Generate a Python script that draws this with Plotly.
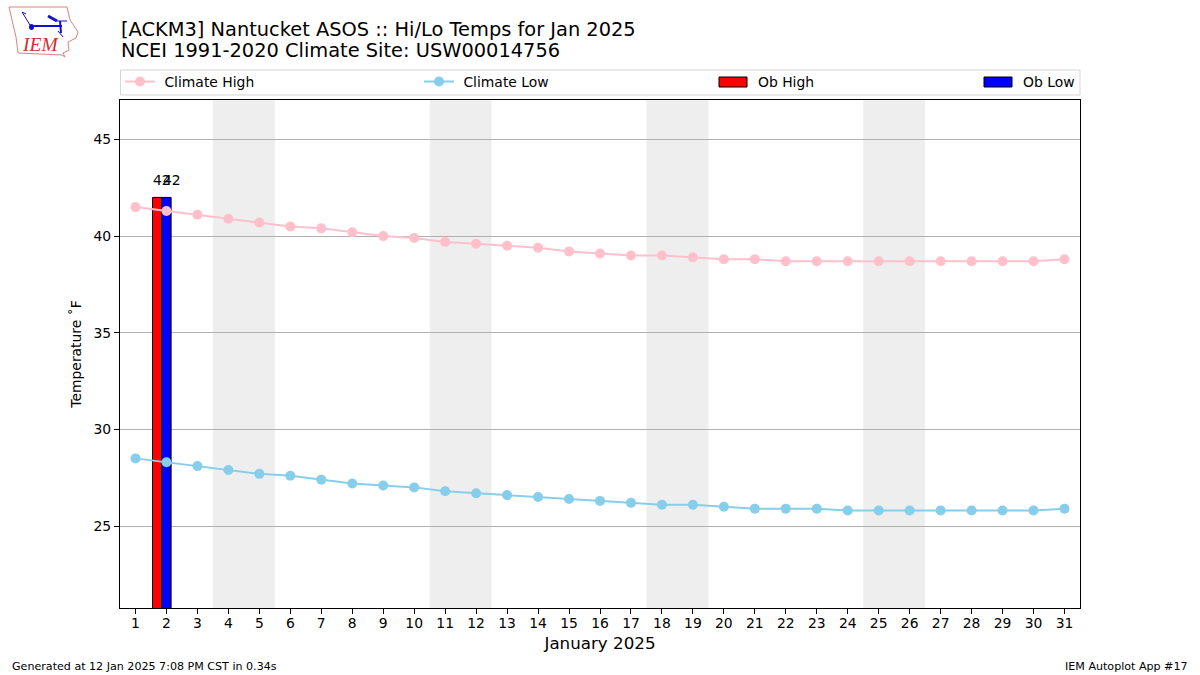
import plotly.graph_objects as go

days = list(range(1, 32))
climate_high = [41.5, 41.3, 41.1, 40.9, 40.7, 40.5, 40.4, 40.2, 40.0, 39.9, 39.7, 39.6, 39.5, 39.4, 39.2, 39.1,
                39.0, 39.0, 38.9, 38.8, 38.8, 38.7, 38.7, 38.7, 38.7, 38.7, 38.7, 38.7, 38.7, 38.7, 38.8]
climate_low = [28.5, 28.3, 28.1, 27.9, 27.7, 27.6, 27.4, 27.2, 27.1, 27.0, 26.8, 26.7, 26.6, 26.5, 26.4, 26.3,
               26.2, 26.1, 26.1, 26.0, 25.9, 25.9, 25.9, 25.8, 25.8, 25.8, 25.8, 25.8, 25.8, 25.8, 25.9]
ob_days = [2]
ob_high = [42]
ob_low = [42]
weekends = [(4, 5), (11, 12), (18, 19), (25, 26)]
y_ticks = [25, 30, 35, 40, 45]

W, H = 1200, 675
L, R, T, B = 120, 1080, 100, 608
FONT = "DejaVu Sans"


def px(x):
    return (x - L) / (R - L)


def py(y):
    return (B - y) / (B - T)


fig = go.Figure()
fig.add_bar(x=ob_days, y=ob_high, width=0.3, offset=-0.45, marker=dict(color="red", line=dict(color="black", width=1)),
            showlegend=False, name="Ob High")
fig.add_bar(x=ob_days, y=ob_low, width=0.3, offset=-0.15, marker=dict(color="blue", line=dict(color="black", width=1)),
            showlegend=False, name="Ob Low")
fig.add_scatter(x=days, y=climate_high, mode="lines+markers", name=" Climate High", legend="legend",
                line=dict(color="pink", width=2), marker=dict(color="pink", size=10))
fig.add_scatter(x=days, y=climate_low, mode="lines+markers", name=" Climate Low", legend="legend2",
                line=dict(color="skyblue", width=2), marker=dict(color="skyblue", size=10))

shapes = []
for a, b in weekends:
    shapes.append(dict(type="rect", xref="x", yref="paper", x0=a - 0.5, x1=b + 0.5, y0=0, y1=1,
                       fillcolor="#eeeeee", line_width=0, layer="below"))
# legend frame
x0, x1, y0, y1 = px(120.5), px(1080), py(70), py(95)
shapes.append(dict(type="rect", xref="paper", yref="paper", x0=x0, x1=x1, y0=y0, y1=y1,
                   fillcolor="white", line=dict(color="#d5d5d5", width=1), layer="above"))
# bar swatches
for sx, col in ((719, "red"), (984, "blue")):
    shapes.append(dict(type="rect", xref="paper", yref="paper", x0=px(sx), x1=px(sx + 28), y0=py(77), y1=py(87),
                       fillcolor=col, line=dict(color="black", width=1), layer="above"))
# logo: state outline
P = lambda pts: "M" + "L".join(f"{px(a):.5f},{py(b):.5f}" for a, b in pts) + "Z"
outline = [(9, 7), (67, 7), (70, 20), (78, 32), (76, 38), (68, 42), (69, 50), (63, 53), (65, 57), (62, 55),
           (18, 53), (16, 37), (12, 20)]
shapes.append(dict(type="path", xref="paper", yref="paper", path=P(outline), line=dict(color="#e08080", width=1),
                   fillcolor="white", layer="above"))
for a, b, c, d, w in [(30, 26, 62, 26, 2), (60, 21, 61, 33, 2), (48, 16, 57, 21, 3), (57, 21, 67, 21, 1),
                      (22, 12, 30, 25, 1), (22, 12, 26, 14, 1), (58, 31, 63, 37, 1)]:
    shapes.append(dict(type="line", xref="paper", yref="paper", x0=px(a), y0=py(b), x1=px(c), y1=py(d),
                       line=dict(color="#1010d0", width=w), layer="above"))
shapes.append(dict(type="circle", xref="paper", yref="paper", x0=px(29), x1=px(34), y0=py(24), y1=py(30),
                   fillcolor="#1010d0", line_width=0, layer="above"))

ann = []
for d, h, l in zip(ob_days, ob_high, ob_low):
    ann.append(dict(x=d - 0.45, y=h, xref="x", yref="y", text=str(h), showarrow=False, xanchor="left", yanchor="bottom",
                    yshift=7, xshift=-2, font=dict(size=13.9, color="black")))
    ann.append(dict(x=d - 0.15, y=l, xref="x", yref="y", text=str(l), showarrow=False, xanchor="left", yanchor="bottom",
                    yshift=7, xshift=-1, font=dict(size=13.9, color="black")))


def txt(x, y, s, size, anchor="left", **kw):
    return dict(x=px(x), y=py(y), xref="paper", yref="paper", text=s, showarrow=False, xanchor=anchor, yanchor="middle",
                xshift=0, font=dict(size=size, color=kw.get("color", "black"), family=kw.get("family", FONT)))


ann += [
    txt(118.5, 29, "[ACKM3] Nantucket ASOS :: Hi/Lo Temps for Jan 2025", 19.4),
    txt(118.5, 51, "NCEI 1991-2020 Climate Site: USW00014756", 19.4),
    txt(756, 82, "Ob High", 13.9),
    txt(1021, 82, "Ob Low", 13.9),
    txt(10, 666, "Generated at 12 Jan 2025 7:08 PM CST in 0.34s", 11.1),
    txt(1190, 666, "IEM Autoplot App #17", 11.1, anchor="right"),
    txt(20, 45, "<i>IEM</i>", 19.5, color="#d03030", family="Liberation Serif"),
]

leg = dict(bgcolor="rgba(0,0,0,0)", borderwidth=0, font=dict(size=13.9, color="black", family=FONT),
           itemwidth=30, xanchor="left", yanchor="middle", orientation="h", tracegroupgap=0)

fig.update_layout(
    width=W, height=H, autosize=False, margin=dict(l=L, r=W - R, t=T, b=H - B),
    paper_bgcolor="white", plot_bgcolor="white", font=dict(family=FONT, size=13.9, color="black"),
    barmode="overlay", shapes=shapes, annotations=ann,
    legend=dict(leg, x=px(120), y=py(82)),
    legend2=dict(leg, x=px(419), y=py(82)),
    xaxis=dict(range=[0.5, 31.5], tickmode="array", tickvals=days, ticktext=[str(d) for d in days], ticks="outside",
               ticklen=5, tickcolor="black", showgrid=False, zeroline=False, showline=True, linecolor="black",
               linewidth=1, mirror=True, ticklabelstandoff=-3,
               title=dict(text="January 2025", font=dict(size=16.7), standoff=7), tickangle=0),
    yaxis=dict(range=[20.76, 47.04], tickmode="array", tickvals=y_ticks, ticks="outside", ticklen=5, tickcolor="black",
               showgrid=True, gridcolor="#b0b0b0", gridwidth=1, zeroline=False, showline=True, linecolor="black",
               linewidth=1, mirror=True, title=dict(text="Temperature ˚F", font=dict(size=13.9), standoff=8)),
)
fig.write_html("out.html", config={"displayModeBar": False},
               post_script="document.body.style.margin='0';document.body.style.overflow='hidden';")
